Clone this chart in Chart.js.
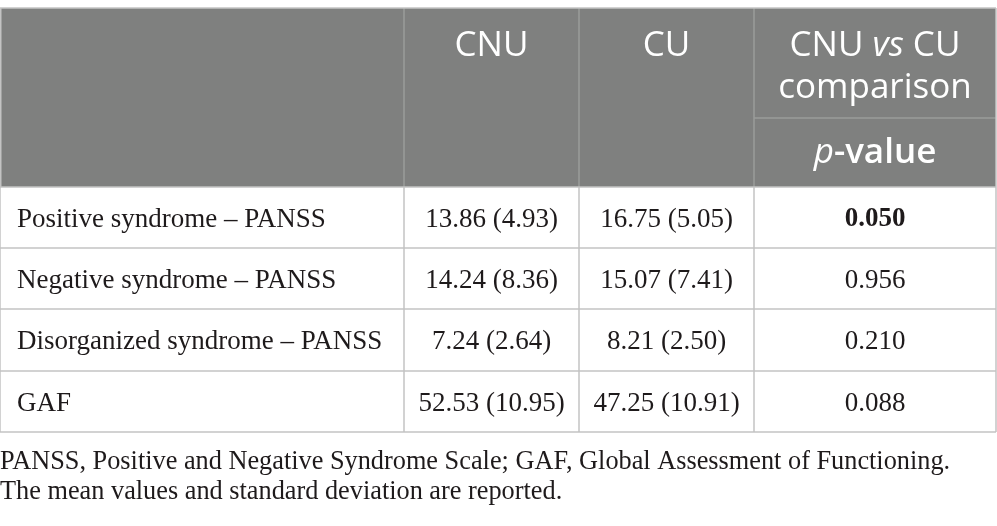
<!DOCTYPE html>
<html>
<head>
<meta charset="utf-8">
<script src="https://cdn.jsdelivr.net/npm/chart.js@4.4.1/dist/chart.umd.min.js"></script>
<style>
  html, body { margin: 0; padding: 0; background: #ffffff; }
  #wrap { width: 997px; height: 526px; position: relative; }
</style>
</head>
<body>
<div id="wrap"><canvas id="tableChart"></canvas></div>
<script>
// table content
const headers = ["CNU", "CU", "CNU vs CU comparison"];
const subHeader = "p-value";
const rowLabels = [
  "Positive syndrome \u2013 PANSS",
  "Negative syndrome \u2013 PANSS",
  "Disorganized syndrome \u2013 PANSS",
  "GAF"
];
const cnuValues = ["13.86 (4.93)", "14.24 (8.36)", "7.24 (2.64)", "52.53 (10.95)"];
const cuValues = ["16.75 (5.05)", "15.07 (7.41)", "8.21 (2.50)", "47.25 (10.91)"];
const pValues = ["0.050", "0.956", "0.210", "0.088"];
const significant = [true, false, false, false];
const footnotes = [
  "PANSS, Positive and Negative Syndrome Scale; GAF, Global Assessment of Functioning.",
  "The mean values and standard deviation are reported."
];

// layout (in scale units = px)
const colEdges = [0, 404, 579, 754, 996];
const headTop = 8, subLine = 118, headBottom = 187;
const rowEdges = [187, 248, 309, 371, 432];
const noteY = [462, 492];

const serif = '"Liberation Serif", "DejaVu Serif", serif';
const sans = '"Open Sans", "Noto Sans", sans-serif';
const headSize = '35px ';
const bodySize = '27px ';

const tablePlugin = {
  id: 'tablePlugin',
  afterDraw(chart) {
    const ctx = chart.ctx;
    const xs = chart.scales.x, ys = chart.scales.y;
    const X = v => xs.getPixelForValue(v);
    const Y = v => ys.getPixelForValue(v);
    ctx.save();

    // header band
    ctx.fillStyle = '#7f807f';
    ctx.fillRect(X(colEdges[0]), Y(headTop), X(colEdges[4]) - X(colEdges[0]), Y(headBottom) - Y(headTop));

    // header inner lines
    ctx.strokeStyle = '#9b9c9b';
    ctx.lineWidth = 1.5;
    ctx.beginPath();
    for (let i = 1; i < 4; i++) {
      ctx.moveTo(X(colEdges[i]), Y(headTop));
      ctx.lineTo(X(colEdges[i]), Y(headBottom));
    }
    ctx.moveTo(X(colEdges[3]), Y(subLine));
    ctx.lineTo(X(colEdges[4]), Y(subLine));
    ctx.stroke();

    // outer / body lines
    ctx.strokeStyle = '#c3c3c3';
    ctx.lineWidth = 1.5;
    ctx.beginPath();
    ctx.moveTo(X(colEdges[0]), Y(headTop));
    ctx.lineTo(X(colEdges[4]), Y(headTop));
    rowEdges.forEach(r => {
      ctx.moveTo(X(colEdges[0]), Y(r));
      ctx.lineTo(X(colEdges[4]), Y(r));
    });
    colEdges.forEach(c => {
      ctx.moveTo(X(c), Y(rowEdges[0]));
      ctx.lineTo(X(c), Y(rowEdges[rowEdges.length - 1]));
    });
    ctx.moveTo(X(colEdges[0]) + 0.75, Y(headTop));
    ctx.lineTo(X(colEdges[0]) + 0.75, Y(headBottom));
    ctx.moveTo(X(colEdges[4]), Y(headTop));
    ctx.lineTo(X(colEdges[4]), Y(headBottom));
    ctx.stroke();

    // header text
    ctx.fillStyle = '#ffffff';
    ctx.textBaseline = 'middle';
    ctx.textAlign = 'center';
    ctx.font = headSize + sans;
    const mid = i => (X(colEdges[i]) + X(colEdges[i + 1])) / 2;
    ctx.fillText(headers[0], mid(1), Y(46));
    ctx.fillText(headers[1], mid(2), Y(46));

    // "CNU vs CU" with italic vs
    const parts = headers[2].split(' ');
    const line1 = [
      { t: 'CNU ', f: headSize + sans },
      { t: 'vs', f: 'italic ' + headSize + sans },
      { t: ' CU', f: headSize + sans }
    ];
    let w = 0;
    line1.forEach(p => { ctx.font = p.f; p.w = ctx.measureText(p.t).width; w += p.w; });
    let x0 = mid(3) - w / 2;
    ctx.textAlign = 'left';
    line1.forEach(p => { ctx.font = p.f; ctx.fillText(p.t, x0, Y(46)); x0 += p.w; });
    ctx.textAlign = 'center';
    ctx.font = headSize + sans;
    ctx.fillText(parts[3], mid(3), Y(88));

    // p-value
    const sub = [
      { t: 'p', f: 'italic ' + headSize + sans },
      { t: subHeader.slice(1), f: '600 ' + headSize + sans }
    ];
    w = 0;
    sub.forEach(p => { ctx.font = p.f; p.w = ctx.measureText(p.t).width; w += p.w; });
    x0 = mid(3) - w / 2;
    ctx.textAlign = 'left';
    sub.forEach(p => { ctx.font = p.f; ctx.fillText(p.t, x0, Y(153)); x0 += p.w; });

    // body
    ctx.fillStyle = '#1e1a1b';
    rowLabels.forEach((label, i) => {
      const cy = (Y(rowEdges[i]) + Y(rowEdges[i + 1])) / 2 + 2;
      ctx.font = bodySize + serif;
      ctx.textAlign = 'left';
      ctx.fillText(label, X(colEdges[0]) + 17, cy);
      ctx.textAlign = 'center';
      ctx.fillText(cnuValues[i], mid(1), cy);
      ctx.fillText(cuValues[i], mid(2), cy);
      ctx.font = (significant[i] ? 'bold ' : '') + bodySize + serif;
      ctx.fillText(pValues[i], mid(3), cy);
    });

    // footnotes
    ctx.font = '26.3px ' + serif;
    ctx.textAlign = 'left';
    footnotes.forEach((n, i) => ctx.fillText(n, X(0), Y(noteY[i])));

    ctx.restore();
  }
};

new Chart(document.getElementById('tableChart'), {
  type: 'scatter',
  data: { datasets: [{ data: [], pointRadius: 0 }] },
  options: {
    responsive: true,
    maintainAspectRatio: false,
    animation: false,
    layout: { padding: 0 },
    plugins: { legend: { display: false }, tooltip: { enabled: false } },
    scales: {
      x: { type: 'linear', min: 0, max: 997, display: false },
      y: { type: 'linear', min: 0, max: 526, reverse: true, display: false }
    }
  },
  plugins: [tablePlugin]
});
</script>
</body>
</html>
